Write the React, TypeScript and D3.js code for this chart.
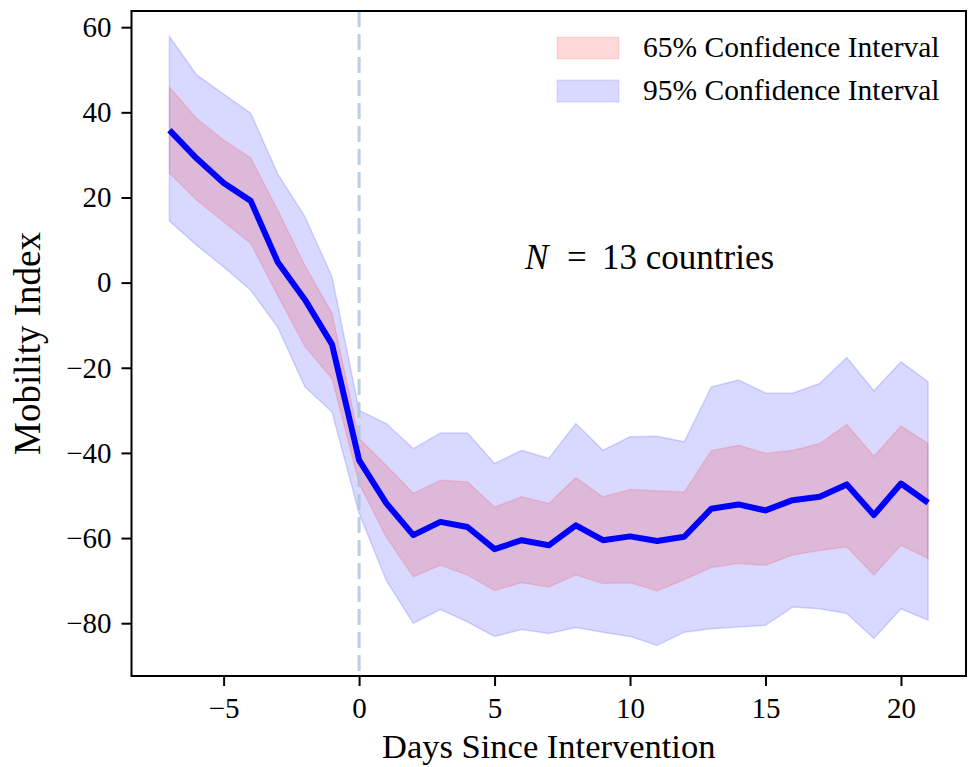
import React, { useEffect, useRef } from "react";
import * as d3 from "d3";

const days = d3.range(-7, 22);
const meanValues = [35.8, 29.2, 23.4, 19.2, 4.8, -4.0, -14.5, -41.7, -51.8, -59.3, -56.2, -57.4, -62.6, -60.5, -61.7, -57.0, -60.5, -59.6, -60.7, -59.7, -53.1, -52.1, -53.5, -51.1, -50.3, -47.4, -54.6, -47.2, -51.7];
const upper95 = [57.8, 48.8, 44.3, 39.8, 25.5, 15.5, 1.4, -30.0, -33.1, -39.0, -35.3, -35.3, -42.5, -39.4, -41.3, -33.1, -39.4, -36.2, -36.1, -37.4, -24.5, -22.9, -25.9, -26.0, -23.7, -17.6, -25.4, -18.6, -23.3];
const lower95 = [14.5, 8.8, 3.7, -1.8, -10.5, -24.5, -30.4, -54.2, -69.9, -80.0, -76.8, -79.7, -83.1, -81.5, -82.4, -81.0, -82.1, -83.1, -85.2, -82.1, -81.3, -80.9, -80.5, -76.2, -76.6, -77.7, -83.6, -76.6, -79.3];
const upper65 = [45.9, 38.6, 33.5, 29.3, 17.0, 4.0, -7.2, -36.6, -42.9, -49.5, -46.4, -46.8, -52.7, -50.3, -51.9, -45.8, -50.3, -48.6, -48.9, -49.2, -39.5, -38.2, -40.1, -39.4, -37.8, -33.3, -40.8, -33.7, -37.8];
const lower65 = [25.7, 19.4, 14.3, 9.2, -3.0, -15.0, -22.5, -47.2, -59.7, -69.1, -66.4, -68.7, -72.3, -70.5, -71.5, -68.7, -70.7, -70.5, -72.4, -69.8, -66.9, -66.0, -66.4, -64.0, -62.9, -62.1, -68.7, -61.7, -64.8];

const xTicks = [-5, 0, 5, 10, 15, 20];
const yTicks = [-80, -60, -40, -20, 0, 20, 40, 60];
const legendLabels = ["65% Confidence Interval", "95% Confidence Interval"];

const W = 969;
const H = 767;
const FONT = "'Liberation Serif', 'DejaVu Serif', serif";

export default function App() {
  const axRef = useRef<SVGGElement>(null);
  const x = d3.scaleLinear().domain([-8.4, 22.4]).range([131.5, 966]);
  const y = d3.scaleLinear().domain([-92.4, 63.8]).range([676, 11]);
  const fmt = (v: number) => (v < 0 ? "\u2212" + Math.abs(v) : String(v));

  useEffect(() => {
    const g = d3.select(axRef.current);
    g.selectAll("*").remove();
    const xa = g.append("g").attr("transform", `translate(0,${y.range()[0]})`)
      .call(d3.axisBottom(x).tickValues(xTicks).tickSize(10).tickPadding(11).tickFormat((d: any) => fmt(d)));
    const ya = g.append("g").attr("transform", `translate(${x.range()[0]},0)`)
      .call(d3.axisLeft(y).tickValues(yTicks).tickSize(10).tickPadding(10).tickFormat((d: any) => fmt(d)));
    [xa, ya].forEach((a) => {
      a.select(".domain").remove();
      a.selectAll("line").attr("stroke", "#000").attr("stroke-width", 2);
      a.selectAll("text").attr("fill", "#000").attr("font-family", FONT).attr("font-size", 29);
    });
  }, []);

  const area = (lo: number[], hi: number[]) =>
    d3.area<number>().x((d) => x(d)).y0((_, i) => y(lo[i])).y1((_, i) => y(hi[i]))(days) || "";
  const line = d3.line<number>().x((d) => x(d)).y((_, i) => y(meanValues[i]))(days) || "";

  const [x0, x1] = x.range();
  const [y0, y1] = y.range();

  return (
    <svg width={W} height={H} style={{ position: "absolute", left: 0, top: 0, background: "#fff" }}>
      <path d={area(lower95, upper95)} fill="#0000ff" fillOpacity={0.15} stroke="#0000ff" strokeOpacity={0.15} strokeWidth={1.5} />
      <path d={area(lower65, upper65)} fill="#ff0000" fillOpacity={0.15} stroke="#ff0000" strokeOpacity={0.12} strokeWidth={1.5} />
      <line x1={x(0)} x2={x(0)} y1={y1} y2={y0} stroke="#a9c3da" strokeOpacity={0.8} strokeWidth={3} strokeDasharray="16,7" />
      <path d={line} fill="none" stroke="#0000ff" strokeWidth={6} strokeLinejoin="round" />
      <rect x={x0} y={y1} width={x1 - x0} height={y0 - y1} fill="none" stroke="#000" strokeWidth={2} />
      <g ref={axRef} />
      {legendLabels.map((lab, i) => (
        <g key={lab} transform={`translate(557,${37 + i * 43})`}>
          <rect width={62} height={22} fill={i === 0 ? "#ff0000" : "#0000ff"} fillOpacity={0.15} stroke={i === 0 ? "#ff0000" : "#0000ff"} strokeOpacity={0.12} />
          <text x={86} y={20} fontFamily={FONT} fontSize={29.5} fill="#000">{lab}</text>
        </g>
      ))}
      <text y={269} fontFamily={FONT} fontSize={35} fill="#000">
        <tspan x={525} fontStyle="italic">N</tspan>
        <tspan x={567}>=</tspan>
        <tspan x={602}>13 countries</tspan>
      </text>
      <text x={(x0 + x1) / 2} y={758} textAnchor="middle" fontFamily={FONT} fontSize={34.5} fill="#000">Days Since Intervention</text>
      <text transform={`translate(40,${(y0 + y1) / 2}) rotate(-90)`} textAnchor="middle" fontFamily={FONT} fontSize={37} fill="#000">Mobility Index</text>
    </svg>
  );
}
